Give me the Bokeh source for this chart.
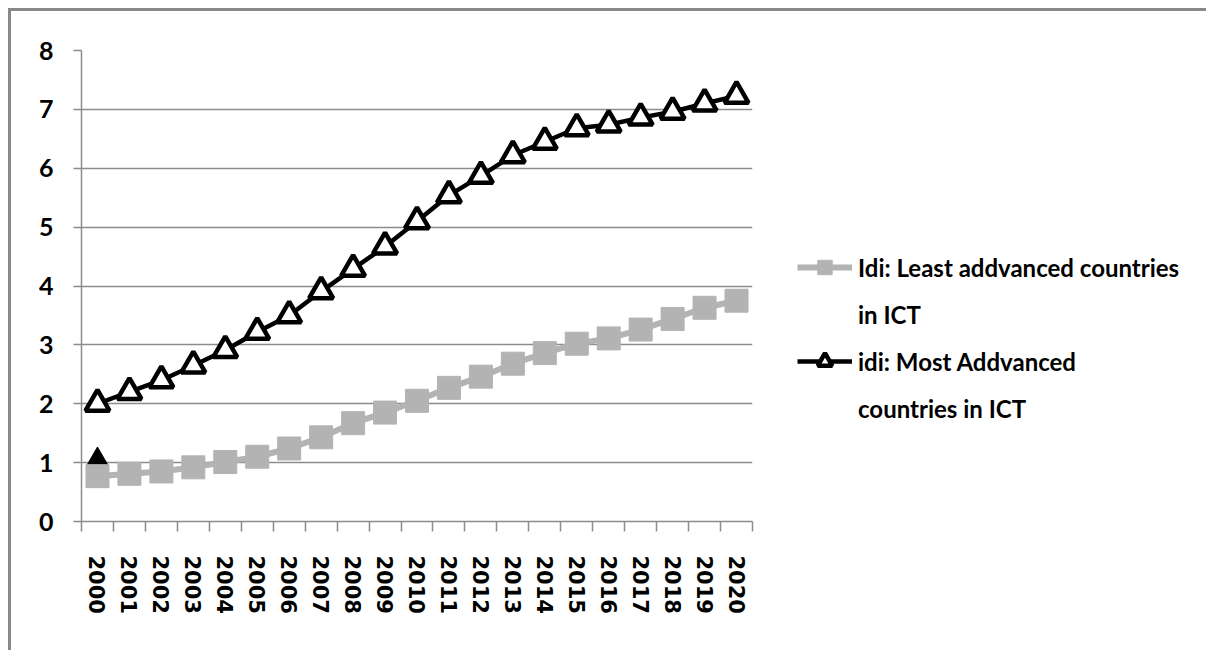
from bokeh.plotting import figure
from bokeh.models import FixedTicker, NumeralTickFormatter, Legend, LegendItem
from bokeh.embed import file_html
from bokeh.resources import INLINE

years = list(range(2000, 2021))
least = [0.77, 0.81, 0.85, 0.92, 1.01, 1.10, 1.24, 1.43, 1.67, 1.85, 2.05,
         2.27, 2.46, 2.68, 2.86, 3.02, 3.11, 3.26, 3.44, 3.63, 3.75]
most = [2.0, 2.2, 2.4, 2.65, 2.91, 3.22, 3.5, 3.91, 4.29, 4.67, 5.1,
        5.54, 5.87, 6.22, 6.45, 6.68, 6.74, 6.86, 6.96, 7.1, 7.23]
stray_year = [2000]
stray_val = [1.05]
label_least = ["Idi: Least addvanced countries", "in ICT"]
label_most = ["idi: Most Addvanced", "countries in ICT"]

GRID = "#8c8c8c"
GRAY = "#b3b3b3"
FONT = "Lato"

p = figure(frame_width=671, frame_height=471, x_range=(1999.5, 2020.5), y_range=(0, 8),
           output_backend="svg", toolbar_location=None,
           min_border_left=70, min_border_top=39, min_border_right=454, min_border_bottom=129)
p.styles = {"border-top": "3px solid #888888", "border-left": "3px solid #888888",
            "margin-left": "8px", "margin-top": "8px"}
p.outline_line_color = None
p.background_fill_color = "white"
p.border_fill_color = "white"

p.xgrid.visible = False
p.ygrid.grid_line_color = GRID
p.ygrid.grid_line_width = 1.5
p.ygrid.ticker = FixedTicker(ticks=list(range(0, 9)))

p.yaxis.ticker = FixedTicker(ticks=list(range(0, 9)))
p.yaxis.axis_line_color = GRID
p.yaxis.axis_line_width = 1.5
p.yaxis.major_tick_line_color = GRID
p.yaxis.major_tick_line_width = 1.5
p.yaxis.major_tick_out = 8
p.yaxis.major_tick_in = 0
p.yaxis.minor_tick_line_color = None
p.yaxis.major_label_standoff = 20
p.yaxis.major_label_text_font = FONT
p.yaxis.major_label_text_font_size = "25px"
p.yaxis.major_label_text_font_style = "bold"
p.yaxis.major_label_text_color = "black"

minor = [y - 0.5 for y in years] + [years[-1] + 0.5]
p.xaxis.ticker = FixedTicker(ticks=years, minor_ticks=minor)
p.xaxis.formatter = NumeralTickFormatter(format="0")
p.xaxis.major_label_orientation = "vertical"
p.xaxis.axis_line_color = GRID
p.xaxis.axis_line_width = 1.5
p.xaxis.major_tick_line_color = None
p.xaxis.major_tick_out = 10
p.xaxis.major_tick_in = 0
p.xaxis.minor_tick_line_color = GRID
p.xaxis.minor_tick_line_width = 1.5
p.xaxis.minor_tick_out = 10
p.xaxis.minor_tick_in = 0
p.xaxis.major_label_standoff = 24
p.xaxis.major_label_text_font = "DejaVu Sans"
p.xaxis.major_label_text_font_size = "21px"
p.xaxis.major_label_text_font_style = "bold"
p.xaxis.major_label_text_color = "black"

p.scatter(stray_year, stray_val, marker="triangle", size=22, fill_color="black", line_color="black")

gl = p.line(years, least, line_color=GRAY, line_width=6)
gs = p.scatter(years, least, marker="square", size=23, fill_color=GRAY, line_color=GRAY)

bl = p.line(years, most, line_color="black", line_width=4.5)
bs = p.scatter(years, most, marker="triangle", size=24, fill_color="white", line_color="black", line_width=4.5)

# invisible renderer used only to carry the wrapped second lines of the legend labels
blank = p.scatter(x=[], y=[], fill_alpha=0, line_alpha=0)

legend = Legend(items=[LegendItem(label=label_least[0], renderers=[gl, gs]),
                       LegendItem(label=label_least[1], renderers=[blank]),
                       LegendItem(label=label_most[0], renderers=[bl, bs]),
                       LegendItem(label=label_most[1], renderers=[blank])],
                location=(45, 95), orientation="vertical",
                glyph_width=55, glyph_height=36, spacing=11, padding=0, margin=0,
                label_standoff=6, border_line_color=None, background_fill_alpha=0,
                label_text_font=FONT, label_text_font_size="24px", label_text_font_style="bold",
                label_text_color="black")
p.add_layout(legend, "right")

open("out.html", "w").write(file_html(p, INLINE))
